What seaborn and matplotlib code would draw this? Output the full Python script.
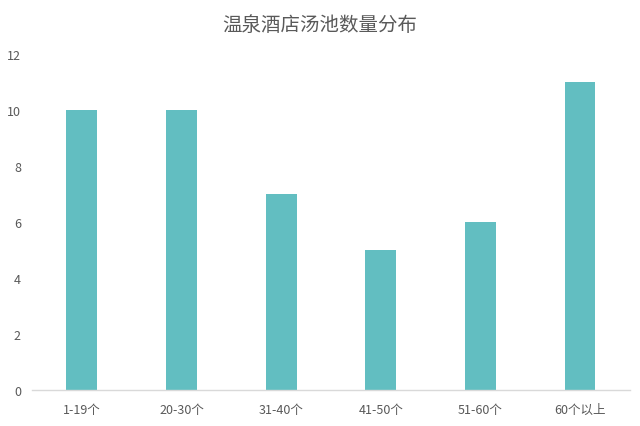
import matplotlib
matplotlib.use("Agg")
import matplotlib.pyplot as plt
import seaborn as sns
import pandas as pd

categories = ["1-19个", "20-30个", "31-40个", "41-50个", "51-60个", "60个以上"]
counts = [10, 10, 7, 5, 6, 11]
yticks = [0, 2, 4, 6, 8, 10, 12]

sns.set_style("white")
plt.rcParams['font.family'] = ['Noto Sans CJK SC', 'DejaVu Sans']

df = pd.DataFrame({"category": categories, "count": counts})

fig = plt.figure(figsize=(6.4, 4.27), dpi=100)
ax = fig.add_axes([0.05, 0.0843, 0.934, 0.7867])
sns.barplot(data=df, x="category", y="count", color="#62BEC1", width=0.31,
            saturation=1, linewidth=0, ax=ax)

ax.set_ylim(0, 12)
ax.set_xlim(-0.5, 5.5)
ax.set_yticks(yticks)
ax.set_xlabel("")
ax.set_ylabel("")
for s in ["top", "right", "left"]:
    ax.spines[s].set_visible(False)
ax.spines["bottom"].set_color("#d9d9d9")
ax.spines["bottom"].set_linewidth(1)
ax.tick_params(axis="both", length=0, labelsize=9, colors="#595959")
ax.tick_params(axis="y", pad=8)
ax.tick_params(axis="x", pad=9)

fig.text(0.5, 0.94, "温泉酒店汤池数量分布", ha="center", va="center",
         fontsize=14, color="#595959")

fig.savefig("out.png", dpi=100)
